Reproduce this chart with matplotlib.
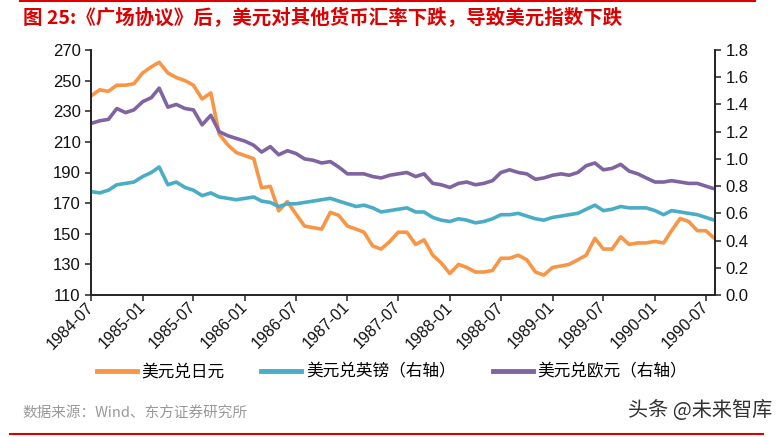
import pandas as pd
import matplotlib
matplotlib.use('Agg')
from matplotlib import pyplot as plt
from matplotlib import dates as mdates
from matplotlib.lines import Line2D
from matplotlib.ticker import FormatStrFormatter

plt.rcParams['font.family'] = ['Liberation Sans', 'Noto Sans CJK SC', 'DejaVu Sans']
CJK = ['Noto Sans CJK SC', 'DejaVu Sans']

# monthly readings, 1984-07 .. 1990-08
start_month = '1984-07-01'
usd_jpy = [240, 244, 243, 247, 247, 248, 255, 259, 262, 255, 252, 250,
           247, 238, 242, 215, 208, 203, 201, 199, 180, 181, 165, 171,
           163, 155, 154, 153, 164, 162, 155, 153, 151, 142, 140, 145,
           151, 151, 143, 146, 136, 131, 124, 130, 128, 125, 125, 126,
           134, 134, 136, 133, 125, 123, 128, 129, 130, 133, 136, 147,
           140, 140, 148, 143, 144, 144, 145, 144, 152, 160, 158, 152,
           152, 147]
usd_gbp = [0.76, 0.75, 0.77, 0.81, 0.82, 0.83, 0.87, 0.90, 0.94, 0.81, 0.83, 0.79,
           0.77, 0.73, 0.75, 0.72, 0.71, 0.70, 0.71, 0.72, 0.69, 0.68, 0.65, 0.67,
           0.67, 0.68, 0.69, 0.70, 0.71, 0.69, 0.67, 0.65, 0.66, 0.64, 0.61, 0.62,
           0.63, 0.64, 0.61, 0.61, 0.57, 0.55, 0.54, 0.56, 0.55, 0.53, 0.54, 0.56,
           0.59, 0.59, 0.60, 0.58, 0.56, 0.55, 0.57, 0.58, 0.59, 0.60, 0.63, 0.66,
           0.62, 0.63, 0.65, 0.64, 0.64, 0.64, 0.62, 0.59, 0.62, 0.61, 0.60, 0.59,
           0.57, 0.55]
usd_eur = [1.26, 1.28, 1.29, 1.37, 1.34, 1.36, 1.42, 1.45, 1.52, 1.38, 1.40, 1.37,
           1.36, 1.25, 1.32, 1.20, 1.17, 1.15, 1.13, 1.10, 1.05, 1.09, 1.03, 1.06,
           1.04, 1.00, 0.99, 0.97, 0.98, 0.94, 0.89, 0.89, 0.89, 0.87, 0.86, 0.88,
           0.89, 0.90, 0.87, 0.89, 0.82, 0.81, 0.79, 0.82, 0.83, 0.81, 0.82, 0.84,
           0.90, 0.92, 0.90, 0.89, 0.85, 0.86, 0.88, 0.89, 0.88, 0.90, 0.95, 0.97,
           0.92, 0.93, 0.96, 0.91, 0.89, 0.86, 0.83, 0.83, 0.84, 0.83, 0.82, 0.82,
           0.80, 0.78]
labels = ['美元兑日元', '美元兑英镑（右轴）', '美元兑欧元（右轴）']
colors = ['#F79646', '#4BACC6', '#8064A2']

dates = pd.date_range(start_month, periods=len(usd_jpy), freq='MS')

fig = plt.figure(figsize=(7.84, 4.37), dpi=100)
ax = fig.add_axes([91 / 784, 1 - 295 / 437, (715 - 91) / 784, 245 / 437])
ax2 = ax.twinx()

ax.plot(dates, usd_jpy, color=colors[0], lw=2.6, solid_capstyle='round')
ax2.plot(dates, usd_gbp, color=colors[1], lw=2.6, solid_capstyle='round')
ax2.plot(dates, usd_eur, color=colors[2], lw=2.6, solid_capstyle='round')

ax.set_xlim(pd.Timestamp('1984-07-01'), pd.Timestamp('1990-08-03'))
ax.set_ylim(110, 270)
ax.set_yticks(range(110, 271, 20))
ax2.set_ylim(0, 1.8)
ax2.set_yticks([i / 10 for i in range(0, 19, 2)])
ax2.yaxis.set_major_formatter(FormatStrFormatter('%.1f'))

ax.xaxis.set_major_locator(mdates.MonthLocator(bymonth=[1, 7]))
ax.xaxis.set_major_formatter(mdates.DateFormatter('%Y-%m'))

for a in (ax, ax2):
    a.spines['top'].set_visible(False)
    for s in ('left', 'right', 'bottom'):
        a.spines[s].set_color('#222222')
        a.spines[s].set_linewidth(1.2)
    a.tick_params(direction='out', length=4, width=1.1, color='#222222',
                  labelsize=12, labelcolor='#111111')
ax.tick_params(axis='x', labelsize=11.5, pad=3)
for t in ax.get_xticklabels():
    t.set_rotation(45)
    t.set_ha('right')
    t.set_va('center')
    t.set_rotation_mode('anchor')

handles = [Line2D([], [], color=c, lw=3.5) for c in colors]
fig.legend(handles, labels, loc='center', bbox_to_anchor=(0.5, 1 - 372 / 437),
           ncol=3, frameon=False, handlelength=2.4, handletextpad=0.3,
           columnspacing=2.2, prop={'family': CJK, 'size': 12})

fig.text(23 / 784, 1 - 18 / 437, '图 25:《广场协议》后，美元对其他货币汇率下跌，导致美元指数下跌',
         color='#DD0000', fontsize=14, fontweight='bold', family=CJK,
         ha='left', va='center')
fig.add_artist(Line2D([20 / 784, 755 / 784], [1 - 1 / 437, 1 - 1 / 437],
                      color='#DD0000', lw=1.5))
fig.add_artist(Line2D([10 / 784, 763 / 784], [1 - 434 / 437, 1 - 434 / 437],
                      color='#DD0000', lw=1.5))
fig.text(22 / 784, 1 - 413 / 437, '数据来源：Wind、东方证券研究所', color='#999999',
         fontsize=10.5, family=CJK, ha='left', va='center')
fig.text(628 / 784, 1 - 410 / 437, '头条 @未来智库', color='#333333',
         fontsize=14.5, family=CJK, ha='left', va='center')

fig.savefig('out.png', dpi=100)
